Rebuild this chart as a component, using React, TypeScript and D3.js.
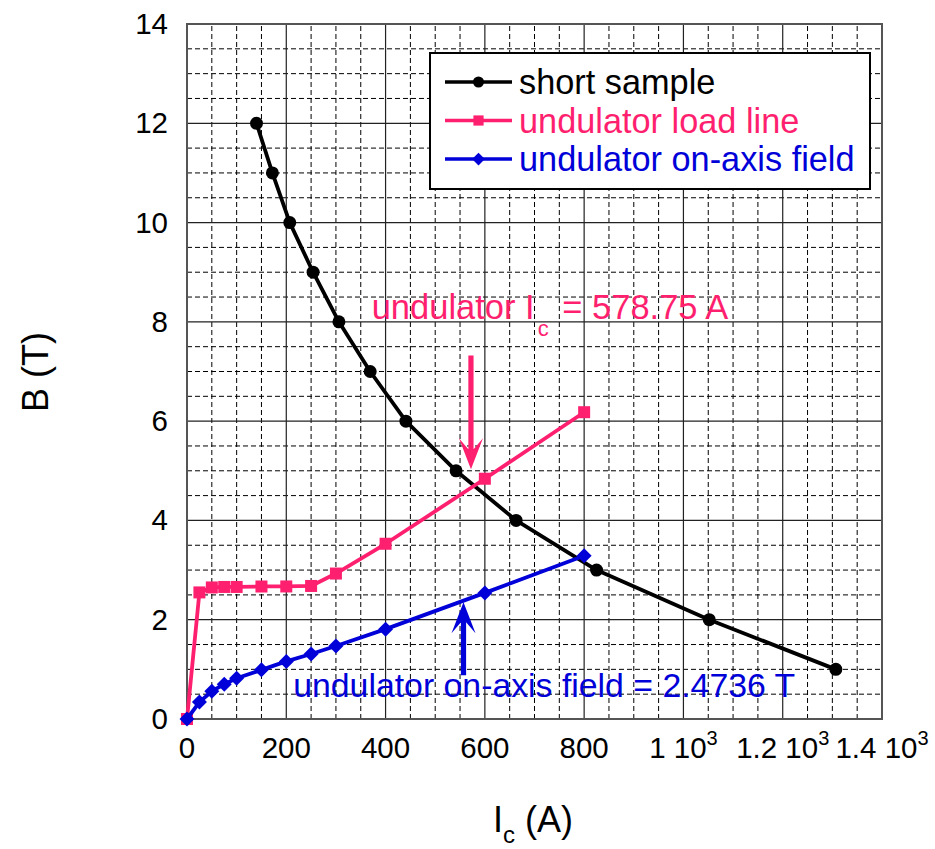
import React from 'react';
import * as d3 from 'd3';

// short sample critical curve
const shortI = [140, 172, 207, 254, 306, 369, 441, 542, 663, 825, 1052, 1307];
const shortB = [12, 11, 10, 9, 8, 7, 6, 5, 4, 3, 2, 1];

// undulator load line (peak field in conductor)
const loadI = [0, 25, 50, 75, 100, 150, 200, 250, 300, 400, 600, 800];
const loadB = [0, 2.55, 2.65, 2.66, 2.66, 2.67, 2.67, 2.68, 2.93, 3.53, 4.84, 6.18];

// undulator on-axis field
const axisI = [0, 25, 50, 75, 100, 150, 200, 250, 300, 400, 600, 800];
const axisB = [0, 0.34, 0.56, 0.7, 0.82, 0.99, 1.16, 1.31, 1.47, 1.81, 2.54, 3.29];

const xTicks = [0, 200, 400, 600, 800, 1000, 1200, 1400];
const yTicks = [0, 2, 4, 6, 8, 10, 12, 14];
const legendLabels = ['short sample', 'undulator load line', 'undulator on-axis field'];

const FONT = '"Liberation Sans", Arial, Helvetica, sans-serif';
const PINK = '#ff1f6f';
const BLUE = '#0000d8';

const width = 935;
const height = 849;
const margin = { left: 187, right: 53, top: 24, bottom: 130 };

const x = d3.scaleLinear().domain([0, 1400]).range([margin.left, width - margin.right]);
const y = d3.scaleLinear().domain([0, 14]).range([height - margin.bottom, margin.top]);

const line = d3
  .line<[number, number]>()
  .x((d) => x(d[0]))
  .y((d) => y(d[1]));

const zip = (a: number[], b: number[]) => a.map((v, i) => [v, b[i]] as [number, number]);

const square = (cx: number, cy: number, s: number) =>
  `M${cx - s / 2},${cy - s / 2}h${s}v${s}h${-s}Z`;
const diamond = (cx: number, cy: number, r: number) =>
  `M${cx},${cy - r}L${cx + r},${cy}L${cx},${cy + r}L${cx - r},${cy}Z`;

// vertical arrow, tip and tail given in data coords
const arrow = (xi: number, tipB: number, tailB: number) => {
  const cx = x(xi);
  const tip = y(tipB);
  const tail = y(tailB);
  const dir = tail > tip ? 1 : -1; // +1: tail below tip
  const headLen = 31;
  const notch = 20;
  const hw = 12;
  const sw = 2.6;
  return [
    `M${cx},${tip}`,
    `L${cx + hw},${tip + dir * headLen}`,
    `L${cx + sw},${tip + dir * notch}`,
    `L${cx + sw},${tail}`,
    `L${cx - sw},${tail}`,
    `L${cx - sw},${tip + dir * notch}`,
    `L${cx - hw},${tip + dir * headLen}`,
    'Z',
  ].join('');
};

const fmtTick = (v: number) => {
  if (v < 1000) return { m: String(v), e: '' };
  return { m: `${d3.format('~')(v / 1000)} 10`, e: '3' };
};

export default function App() {
  const minorX = d3.range(0, 1401, 50).filter((v) => v % 200 !== 0);
  const minorY = d3.range(0, 14.01, 0.5).filter((v) => v % 2 !== 0);

  const series = [
    { pts: zip(shortI, shortB), color: '#000', kind: 'circle' },
    { pts: zip(loadI, loadB), color: PINK, kind: 'square' },
    { pts: zip(axisI, axisB), color: BLUE, kind: 'diamond' },
  ];

  const marker = (kind: string, cx: number, cy: number, color: string, scale = 1, key?: any) => {
    if (kind === 'circle') return <circle key={key} cx={cx} cy={cy} r={6.5 * scale} fill={color} />;
    if (kind === 'square') return <path key={key} d={square(cx, cy, 12 * scale)} fill={color} />;
    return <path key={key} d={diamond(cx, cy, 7.5 * scale)} fill={color} />;
  };

  const legend = { x0: 430, y0: 53, w: 440, h: 136 };

  return (
    <svg
      width={width}
      height={height}
      style={{ position: 'absolute', left: 0, top: 0, background: '#fff' }}
      fontFamily={FONT}
    >
      {/* minor grid */}
      <g stroke="#000" strokeWidth={1} strokeDasharray="5,3">
        {minorX.map((v) => (
          <line key={'mx' + v} x1={x(v)} x2={x(v)} y1={y(0)} y2={y(14)} />
        ))}
        {minorY.map((v) => (
          <line key={'my' + v} x1={x(0)} x2={x(1400)} y1={y(v)} y2={y(v)} />
        ))}
      </g>
      {/* major grid */}
      <g stroke="#222" strokeWidth={1.2}>
        {xTicks.map((v) => (
          <line key={'gx' + v} x1={x(v)} x2={x(v)} y1={y(0)} y2={y(14)} />
        ))}
        {yTicks.map((v) => (
          <line key={'gy' + v} x1={x(0)} x2={x(1400)} y1={y(v)} y2={y(v)} />
        ))}
      </g>
      <rect
        x={x(0)}
        y={y(14)}
        width={x(1400) - x(0)}
        height={y(0) - y(14)}
        fill="none"
        stroke="#555"
        strokeWidth={2}
      />

      {/* tick labels */}
      <g fontSize={29.5} fill="#000">
        {yTicks.map((v) => (
          <text key={'ty' + v} x={x(0) - 19} y={y(v) + 10} textAnchor="end">
            {v}
          </text>
        ))}
        {xTicks.map((v) => {
          const t = fmtTick(v);
          return (
            <text key={'tx' + v} x={x(v)} y={758} textAnchor="middle">
              {t.m}
              {t.e && (
                <tspan fontSize={20} dy={-13}>
                  {t.e}
                </tspan>
              )}
            </text>
          );
        })}
      </g>

      {/* axis titles */}
      <text transform={`translate(48, 372) rotate(-90)`} fontSize={36} textAnchor="middle">
        B (T)
      </text>
      <text x={493} y={832} fontSize={36}>
        I
        <tspan fontSize={24} dy={11}>
          c
        </tspan>
        <tspan dy={-11}> (A)</tspan>
      </text>

      {/* series */}
      {series.map((s, i) => (
        <g key={'s' + i}>
          <path d={line(s.pts) || ''} fill="none" stroke={s.color} strokeWidth={3.8} strokeLinejoin="round" />
          {s.pts.map((p, j) => marker(s.kind, x(p[0]), y(p[1]), s.color, 1, j))}
        </g>
      ))}

      {/* annotations */}
      <path d={arrow(572, 5.03, 7.32)} fill={PINK} />
      <path d={arrow(557, 2.35, 0.88)} fill={BLUE} />
      <text x={x(372)} y={y(8.06)} fontSize={34.5} fill={PINK}>
        undulator I
        <tspan fontSize={22} dx={3} dy={17}>
          c
        </tspan>
        <tspan dx={4} dy={-17}> = 578.75 A</tspan>
      </text>
      <text x={x(214)} y={y(0.44)} fontSize={33.8} fill={BLUE}>
        undulator on-axis field = 2.4736 T
      </text>

      {/* legend */}
      <g>
        <rect
          x={legend.x0}
          y={legend.y0}
          width={legend.w}
          height={legend.h}
          fill="#fff"
          stroke="#000"
          strokeWidth={2}
        />
        {legendLabels.map((label, i) => {
          const cy = 82 + i * 38.5;
          const s = series[i];
          return (
            <g key={'lg' + i}>
              <line x1={445} x2={512} y1={cy} y2={cy} stroke={s.color} strokeWidth={3.5} />
              {marker(s.kind, 478.5, cy, s.color, 0.85)}
              <text x={519} y={cy + 12} fontSize={34.3} fill={s.color}>
                {label}
              </text>
            </g>
          );
        })}
      </g>
    </svg>
  );
}
